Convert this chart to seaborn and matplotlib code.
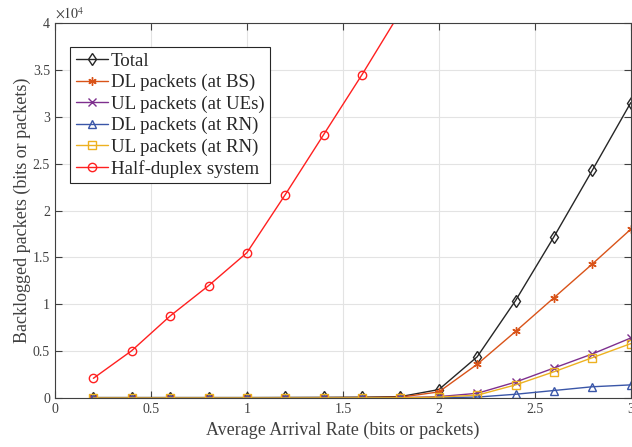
import numpy as np
import pandas as pd
import matplotlib
matplotlib.use("Agg")
import matplotlib.pyplot as plt
from matplotlib.ticker import FuncFormatter
import seaborn as sns

# arrival rates
rate = [0.2, 0.4, 0.6, 0.8, 1.0, 1.2, 1.4, 1.6, 1.8, 2.0, 2.2, 2.4, 2.6, 2.8, 3.0]

total = [50, 50, 50, 50, 50, 60, 70, 90, 150, 900, 4400, 10400, 17200, 24300, 31500]
dl_bs = [30, 30, 30, 30, 30, 35, 40, 50, 90, 650, 3600, 7100, 10700, 14300, 18000]
ul_ue = [10, 10, 10, 10, 10, 10, 15, 20, 30, 150, 500, 1700, 3200, 4700, 6400]
dl_rn = [5, 5, 5, 5, 5, 5, 5, 5, 10, 30, 100, 400, 800, 1200, 1400]
ul_rn = [5, 5, 5, 5, 5, 5, 10, 15, 20, 100, 300, 1400, 2800, 4300, 5800]
half_rate = [0.2, 0.4, 0.6, 0.8, 1.0, 1.2, 1.4, 1.6, 1.8]
half_duplex = [2100, 5050, 8750, 11980, 15500, 21700, 28100, 34500, 41200]

labels = ["Total", "DL packets (at BS)", "UL packets (at UEs)",
          "DL packets (at RN)", "UL packets (at RN)", "Half-duplex system"]
colors = ["#262626", "#D95319", "#7E2F8E", "#3A56A8", "#EDB120", "#FF2020"]
markers = ["d", (6, 2, 0), "x", "^", "s", "o"]

sns.set_style("whitegrid")
plt.rcParams['font.family'] = ['Liberation Serif', 'DejaVu Serif']
plt.rcParams['mathtext.fontset'] = 'stix'

fig = plt.figure(figsize=(6.32, 4.47), dpi=100)
ax = fig.add_axes([0.087, 0.1096, 0.911, 0.8389])

series = [(rate, total), (rate, dl_bs), (rate, ul_ue), (rate, dl_rn), (rate, ul_rn),
          (half_rate, half_duplex)]
for (xs, ys), lab, c, m in zip(series, labels, colors, markers):
    df = pd.DataFrame({"rate": xs, "val": ys})
    sns.lineplot(data=df, x="rate", y="val", ax=ax, color=c, marker=m, label=lab,
                 markersize=6, markerfacecolor="none", markeredgecolor=c,
                 markeredgewidth=1.0, linewidth=1.0)

ax.set_xlim(0, 3)
ax.set_ylim(0, 40000)
ax.set_xticks(np.arange(0, 3.01, 0.5))
ax.set_xticklabels(["0", "0.5", "1", "1.5", "2", "2.5", "3"])
ax.set_yticks(np.arange(0, 40001, 5000))
ax.yaxis.set_major_formatter(FuncFormatter(lambda v, p: f"{v / 1e4:g}"))
ax.text(0.0, 1.005, r"$\times10^4$", transform=ax.transAxes, fontsize=10,
        color="#404040", ha="left", va="bottom")

ax.set_xlabel("Average Arrival Rate (bits or packets)", fontsize=13, color="#404040", labelpad=4)
ax.set_ylabel("Backlogged packets (bits or packets)", fontsize=13, color="#404040", labelpad=1)
ax.tick_params(axis="both", labelsize=10, labelcolor="#404040", direction="in",
               length=5, width=0.8, color="#404040", top=True, right=True,
               bottom=True, left=True)
ax.grid(True, color="#E3E3E3", linewidth=0.8)
for s in ax.spines.values():
    s.set_color("#404040")
    s.set_linewidth(0.8)

leg = ax.legend(loc="upper left", bbox_to_anchor=(0.026, 0.936), borderaxespad=0,
                fontsize=13.6, frameon=True, fancybox=False, framealpha=1,
                edgecolor="#262626", handlelength=1.7, handletextpad=0.15,
                labelspacing=0.22, borderpad=0.3)
leg.get_frame().set_linewidth(0.8)

fig.savefig("out.png", dpi=100)
